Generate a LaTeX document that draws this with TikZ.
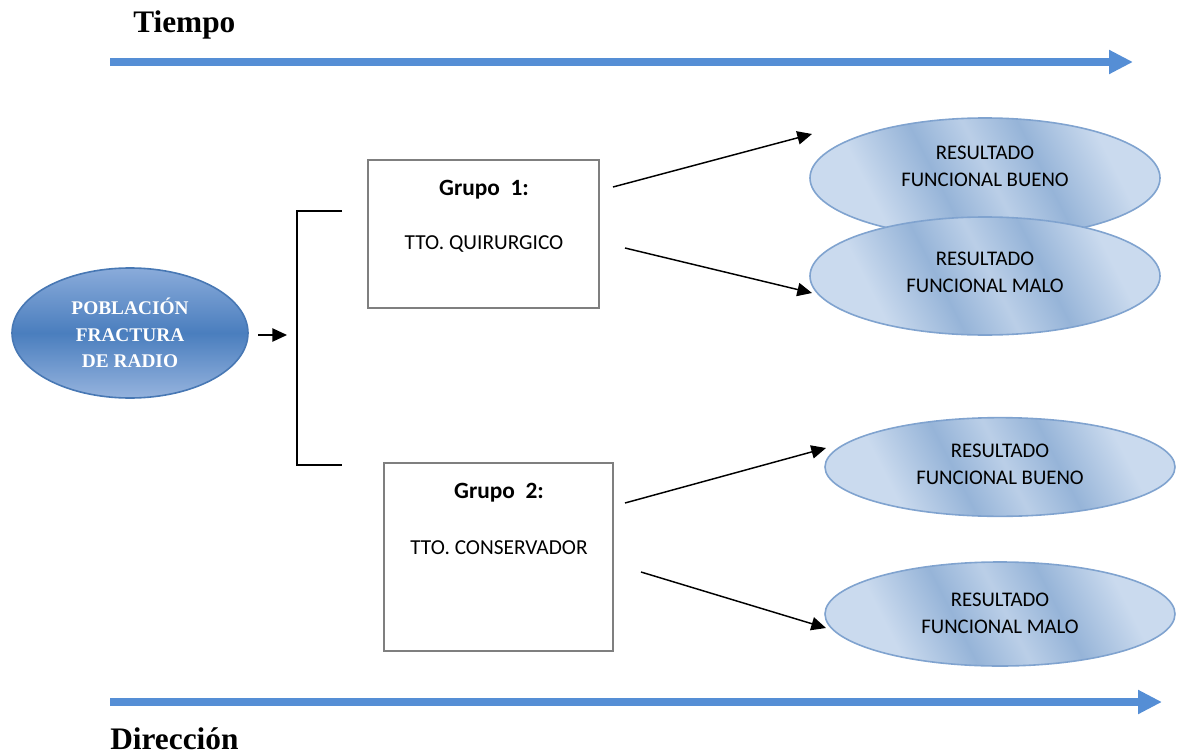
\documentclass[tikz,border=0pt]{standalone}
\usepackage{fontspec}
\setmainfont{Liberation Serif}
\newfontfamily\calibri{Carlito}
\usetikzlibrary{positioning,shapes,arrows.meta}

\definecolor{flecha}{RGB}{85,142,213}
\definecolor{resclaro}{RGB}{202,218,238}
\definecolor{resoscuro}{RGB}{150,180,216}
\definecolor{resborde}{RGB}{128,163,207}
\definecolor{pobclaro}{RGB}{138,171,218}
\definecolor{pobmedio}{RGB}{74,126,190}
\definecolor{pobborde}{RGB}{72,120,180}
\definecolor{cajaborde}{RGB}{127,127,127}

\pgfdeclarehorizontalshading{franjas}{100bp}{color(0bp)=(resclaro); color(30bp)=(resclaro); color(42bp)=(resoscuro); color(51bp)=(resclaro!70!resoscuro); color(60bp)=(resoscuro); color(72bp)=(resclaro); color(100bp)=(resclaro)}

\begin{document}
\begin{tikzpicture}[x=0.75pt,y=-0.75pt,
  eje/.style={-{Triangle[length=18pt,width=17pt]},line width=5.5pt,draw=flecha},
  titulo/.style={font=\fontsize{23.5}{28}\selectfont\bfseries,inner sep=0pt,anchor=base west},
  poblacion/.style={ellipse,draw=pobborde,line width=1.2pt,top color=pobclaro,bottom color=pobclaro!90!white,middle color=pobmedio,
    minimum width=177pt,minimum height=97.5pt,text=white,align=center,font=\fontsize{14.5}{20}\selectfont\bfseries},
  grupo/.style={rectangle,draw=cajaborde,line width=1.5pt},
  cajatexto/.style={font=\calibri\fontsize{16}{20}\selectfont,inner sep=0pt},
  resultado/.style={ellipse,draw=resborde,line width=1.2pt,shading=franjas,shading angle=27,minimum width=262.5pt},
  restexto/.style={font=\calibri\fontsize{15.6}{20}\selectfont,align=center,inner sep=0pt},
  flechita/.style={-{Triangle[length=11pt,width=10pt]},line width=1.1pt},
  corchete/.style={line width=1.1pt}
]
\useasboundingbox (0,0) rectangle (1177,756);

% ejes de tiempo y direccion
\coordinate (t0) at (110,62);
\coordinate (t1) at (1133,62);
\draw[eje] (t0) -- (t1);
\node[titulo] (tiempo) at (133,33) {Tiempo};
\coordinate (d0) at (110,702);
\coordinate (d1) at (1162,702);
\draw[eje] (d0) -- (d1);
\node[titulo] (direccion) at (110,749) {Dirección};

% poblacion
\node[poblacion] (pob) at (130,333) {POBLACIÓN\\FRACTURA\\DE RADIO};
\coordinate (p0) at (258,335);
\coordinate (p1) at (287,335);
\draw[flechita] (p0) -- (p1);

% corchete
\coordinate (c1) at (342,211);
\coordinate (c2) at (342,465);
\draw[corchete] (c1) -- ++(-45,0) |- (c2);

% grupos
\node[grupo,minimum width=173pt,minimum height=111pt] (g1) at (483.5,234) {};
\node[cajatexto,font=\calibri\fontsize{17.5}{20}\selectfont] (g1a) at (484,190) {\textbf{Grupo\ \ 1:}};
\node[cajatexto] (g1b) at (484,244) {TTO. QUIRURGICO};
\node[grupo,minimum width=172pt,minimum height=141pt] (g2) at (498.5,557) {};
\node[cajatexto,font=\calibri\fontsize{17.5}{20}\selectfont] (g2a) at (499,493) {\textbf{Grupo\ \ 2:}};
\node[cajatexto] (g2b) at (499,548) {TTO. CONSERVADOR};

% resultados
\node[resultado,minimum height=90pt] (r1) at (985,178) {};
\node[restexto] (r1t) at (985,166) {RESULTADO\\FUNCIONAL BUENO};
\node[resultado,minimum height=88.5pt] (r2) at (985,276) {};
\node[restexto] (r2t) at (985,272) {RESULTADO\\FUNCIONAL MALO};
\node[resultado,minimum height=74pt] (r3) at (1000,467) {};
\node[restexto] (r3t) at (1000,464) {RESULTADO\\FUNCIONAL BUENO};
\node[resultado,minimum height=78pt] (r4) at (1000,614) {};
\node[restexto] (r4t) at (1000,613) {RESULTADO\\FUNCIONAL MALO};

% flechas
\coordinate (a1) at (613,187);
\coordinate (b1) at (812,134);
\draw[flechita] (a1) -- (b1);
\coordinate (a2) at (625,248);
\coordinate (b2) at (812,293);
\draw[flechita] (a2) -- (b2);
\coordinate (a3) at (625,503);
\coordinate (b3) at (826,448);
\draw[flechita] (a3) -- (b3);
\coordinate (a4) at (641,572);
\coordinate (b4) at (826,628);
\draw[flechita] (a4) -- (b4);
\end{tikzpicture}
\end{document}
